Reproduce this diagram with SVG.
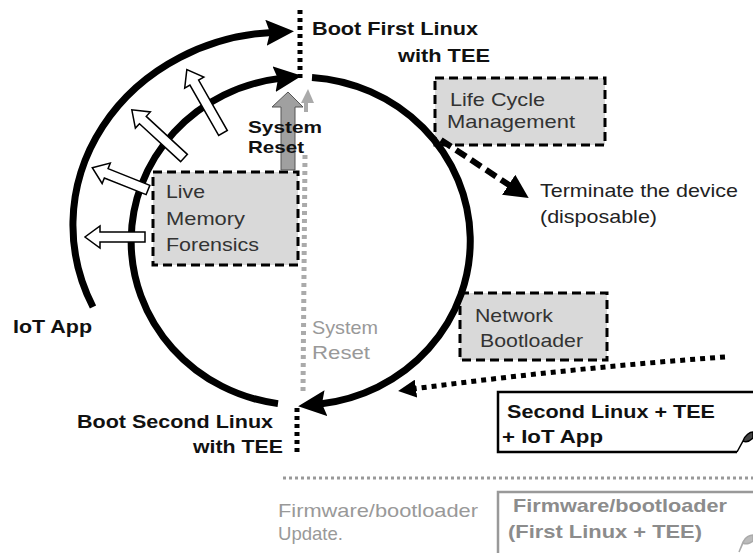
<svg xmlns="http://www.w3.org/2000/svg" width="753" height="553" viewBox="0 0 753 553">
<style>
text{font-family:"Liberation Sans",Arial,Helvetica,sans-serif;font-size:18.5px}
.b{font-weight:bold;fill:#111}
.r{fill:#222}
.bx{fill:#333}
.g{fill:#999}
.gb{fill:#8c8c8c;font-weight:bold}
.box{fill:#d9d9d9;stroke:#000;stroke-width:3;stroke-dasharray:9 5}
.arc{fill:none;stroke:#000;stroke-width:7}
.wa{fill:#fff;stroke:#000;stroke-width:1.5;stroke-linejoin:miter}
</style>
<defs>
<marker id="ah" markerUnits="userSpaceOnUse" markerWidth="28" markerHeight="26" viewBox="0 0 28 26" refX="6" refY="13" orient="auto"><path d="M0,0 L28,13 L0,26 L4,13 z" fill="#000"/></marker>
<marker id="ahd" markerUnits="userSpaceOnUse" markerWidth="24" markerHeight="24" viewBox="0 0 24 24" refX="4" refY="12" orient="auto"><path d="M0,0 L24,12 L0,24 z" fill="#000"/></marker>
<marker id="aht" markerUnits="userSpaceOnUse" markerWidth="18" markerHeight="18" viewBox="0 0 18 18" refX="3" refY="9" orient="auto"><path d="M0,0 L18,9 L0,18 z" fill="#000"/></marker>
</defs>

<g id="nodes">
<g id="life-cycle">
<rect class="box" x="435" y="78" width="170" height="67"/>
<text class="bx" x="450" y="106" textLength="95" lengthAdjust="spacingAndGlyphs">Life Cycle</text>
<text class="bx" x="447" y="128" textLength="128" lengthAdjust="spacingAndGlyphs">Management</text>
</g>
<g id="live-memory">
<rect class="box" x="153" y="172" width="145" height="93"/>
<text class="bx" x="166" y="198" textLength="39" lengthAdjust="spacingAndGlyphs">Live</text>
<text class="bx" x="166" y="225" textLength="79" lengthAdjust="spacingAndGlyphs">Memory</text>
<text class="bx" x="166" y="251" textLength="93" lengthAdjust="spacingAndGlyphs">Forensics</text>
</g>
<g id="network-bootloader">
<rect class="box" x="460" y="293" width="147" height="67"/>
<text class="bx" x="475" y="322" textLength="78" lengthAdjust="spacingAndGlyphs">Network</text>
<text class="bx" x="480" y="347" textLength="103" lengthAdjust="spacingAndGlyphs">Bootloader</text>
</g>
<g id="second-linux">
<path d="M753,392 H498 V452 H737" fill="#fff" stroke="#000" stroke-width="2.5"/>
<path d="M737,452 L743,441 C745,435 750,432 753,432 L753,438 C750,441 747,443 743,441 Z" fill="#444" stroke="#000" stroke-width="1.5"/>
<text class="b" x="507" y="418" textLength="208" lengthAdjust="spacingAndGlyphs">Second Linux + TEE</text>
<text class="b" x="502" y="443" textLength="101" lengthAdjust="spacingAndGlyphs">+ IoT App</text>
</g>
<g id="firmware">
<path d="M753,492 H498 V560" fill="#fff" stroke="#999" stroke-width="2.5"/>
<path d="M739,552 L743,542 C745,537 750,535 753,535 L753,541 C750,543 747,545 743,543 Z" fill="#bbb" stroke="#aaa" stroke-width="1.5"/>
<text class="gb" x="513" y="512" textLength="214" lengthAdjust="spacingAndGlyphs">Firmware/bootloader</text>
<text class="gb" x="508" y="538" textLength="194" lengthAdjust="spacingAndGlyphs">(First Linux + TEE)</text>
</g>
</g>

<g id="connectors">
<line x1="300" y1="10" x2="300" y2="78" stroke="#000" stroke-width="5" stroke-dasharray="4 4"/>
<line x1="297" y1="408" x2="297" y2="454" stroke="#000" stroke-width="5" stroke-dasharray="4 4"/>
<line x1="305" y1="155" x2="303" y2="392" stroke="#aaa" stroke-width="5" stroke-dasharray="4 4"/>
<line x1="306" y1="102" x2="306" y2="112" stroke="#aaa" stroke-width="4"/>
<polygon points="308,89 314,103 301,103" fill="#aaa"/>
<line x1="283" y1="478" x2="753" y2="478" stroke="#999" stroke-width="3" stroke-dasharray="3 3"/>
<path class="arc" d="M93,307 A212,193 0 0 1 272,32.4" marker-end="url(#ah)"/>
<path class="arc" d="M312,77.4 A170,164 0 0 1 320,403.9" marker-end="url(#ah)"/>
<path class="arc" d="M278,403.6 A170,164 0 0 1 280,78.4" marker-end="url(#ah)"/>
<path d="M441,140 L512,187" fill="none" stroke="#000" stroke-width="6" stroke-dasharray="12 6" marker-end="url(#ahd)"/>
<path d="M725,357 Q570,368 413,389" fill="none" stroke="#000" stroke-width="5" stroke-dasharray="5 5" marker-end="url(#aht)"/>
<polygon points="288,92 303,107 295,107 295,170 281,170 281,107 272,107" fill="#a0a0a0" stroke="#555" stroke-width="1"/>
</g>

<g id="forensic-arrows">
<polygon class="wa" transform="translate(145,237) rotate(180)" points="0,-5 45,-5 45,-11 60,0 45,11 45,5 0,5"/>
<polygon class="wa" transform="translate(148,190) rotate(201.8)" points="0,-5 45,-5 45,-11 60,0 45,11 45,5 0,5"/>
<polygon class="wa" transform="translate(184,158) rotate(222.7)" points="0,-5 56,-5 56,-11 71,0 56,11 56,5 0,5"/>
<polygon class="wa" transform="translate(223,133) rotate(240.3)" points="0,-5 58,-5 58,-11 73,0 58,11 58,5 0,5"/>
</g>

<g id="labels">
<text class="b" x="312" y="35" textLength="166" lengthAdjust="spacingAndGlyphs">Boot First Linux</text>
<text class="b" x="398" y="62" textLength="92" lengthAdjust="spacingAndGlyphs">with TEE</text>
<text class="b" x="248" y="133" style="font-size:17px" textLength="74" lengthAdjust="spacingAndGlyphs">System</text>
<text class="b" x="248" y="153" style="font-size:17px" textLength="56" lengthAdjust="spacingAndGlyphs">Reset</text>
<text class="r" x="540" y="197" textLength="198" lengthAdjust="spacingAndGlyphs">Terminate the device</text>
<text class="r" x="540" y="223" textLength="117" lengthAdjust="spacingAndGlyphs">(disposable)</text>
<text class="b" x="13" y="333" textLength="79" lengthAdjust="spacingAndGlyphs">IoT App</text>
<text class="g" x="312" y="334" textLength="66" lengthAdjust="spacingAndGlyphs">System</text>
<text class="g" x="312" y="359" textLength="58" lengthAdjust="spacingAndGlyphs">Reset</text>
<text class="b" x="77" y="428" textLength="196" lengthAdjust="spacingAndGlyphs">Boot Second Linux</text>
<text class="b" x="193" y="453" textLength="90" lengthAdjust="spacingAndGlyphs">with TEE</text>
<text class="g" x="278" y="517" textLength="200" lengthAdjust="spacingAndGlyphs">Firmware/bootloader</text>
<text class="g" x="278" y="540" textLength="65" lengthAdjust="spacingAndGlyphs">Update.</text>
</g>
</svg>
